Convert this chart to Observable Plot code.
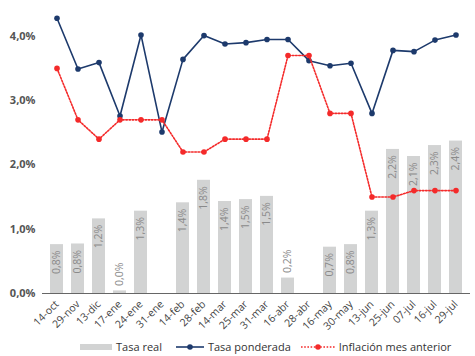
<!DOCTYPE html>
<html>
<head>
<meta charset="utf-8">
<script src="https://cdn.jsdelivr.net/npm/d3@7"></script>
<script src="https://cdn.jsdelivr.net/npm/@observablehq/plot@0.6"></script>
<style>
  body { margin: 0; background: #fff; font-family: "Open Sans", sans-serif; }
  #chart { width: 475px; height: 340px; }
  .legend { display: flex; align-items: center; font-size: 11px; color: #333; margin-left: 80px; height: 14px; line-height: 14px; white-space: nowrap; width: 390px; }
  .legend .item { display: flex; align-items: center; flex-shrink: 0; white-space: nowrap; }
  .legend svg { margin-right: 4px; flex-shrink: 0; }
</style>
</head>
<body>
<div id="chart"></div>
<script>
const categories = ["14-oct","29-nov","13-dic","17-ene","24-ene","31-ene","14-feb","28-feb","14-mar","25-mar","31-mar","16-abr","28-abr","16-may","30-may","13-jun","25-jun","07-jul","16-jul","29-jul"];
const tasaReal = [0.76,0.77,1.16,0.04,1.28,null,1.41,1.76,1.43,1.46,1.51,0.24,null,0.72,0.76,1.28,2.24,2.13,2.30,2.37];
const tasaPonderada = [4.28,3.49,3.59,2.76,4.02,2.51,3.64,4.01,3.88,3.90,3.95,3.95,3.62,3.54,3.58,2.80,3.78,3.76,3.94,4.02];
const inflacion = [3.50,2.70,2.40,2.70,2.70,2.70,2.20,2.20,2.40,2.40,2.40,3.70,3.70,2.80,2.80,1.50,1.50,1.60,1.60,1.60];
const yTicks = [0,1,2,3,4];

const fmt = v => v.toFixed(1).replace(".", ",") + "%";
const rows = categories.map((c, i) => ({cat: c, real: tasaReal[i], pond: tasaPonderada[i], infl: inflacion[i]}));
const barRows = rows.filter(d => d.real != null);
const inside = barRows.filter(d => d.real >= 0.5);
const outside = barRows.filter(d => d.real < 0.5);

const navy = "#1d3a6c";
const red = "#f42a2a";

const plot = Plot.plot({
  width: 475,
  height: 340,
  marginLeft: 42,
  marginRight: 5,
  marginTop: 10,
  marginBottom: 47,
  style: {fontFamily: "Open Sans, sans-serif", background: "#fff"},
  x: {domain: categories, paddingInner: 0.4, paddingOuter: 0.2, label: null},
  y: {domain: [0, 4.4], label: null},
  marks: [
    Plot.barY(barRows, {x: "cat", y: "real", fill: "#d2d3d3"}),
    Plot.text(inside, {x: "cat", y: "real", text: d => fmt(d.real), rotate: -90, textAnchor: "end", dy: 6, fill: "#8a8a8a", fontSize: 10.5}),
    Plot.text(outside, {x: "cat", y: "real", text: d => fmt(d.real), rotate: -90, textAnchor: "start", dy: -5, fill: "#8a8a8a", fontSize: 10.5}),
    Plot.ruleY([0], {stroke: "#666", strokeWidth: 1}),
    Plot.line(rows, {x: "cat", y: "pond", stroke: navy, strokeWidth: 1.6}),
    Plot.dot(rows, {x: "cat", y: "pond", fill: navy, r: 2.8}),
    Plot.line(rows, {x: "cat", y: "infl", stroke: red, strokeWidth: 1.6, strokeDasharray: "1.6,1.6"}),
    Plot.dot(rows, {x: "cat", y: "infl", fill: red, r: 2.8}),
    Plot.axisY({ticks: yTicks, tickSize: 0, tickPadding: 7, tickFormat: d => d.toFixed(1).replace(".", ",") + "%", fontSize: 11, fontWeight: "bold", fill: "#555"}),
    Plot.axisX({tickSize: 0, tickPadding: 9, tickRotate: -45, fontSize: 10.5, fill: "#444"})
  ]
});
document.getElementById("chart").appendChild(plot);

const legend = document.createElement("div");
legend.className = "legend";
legend.innerHTML = `
  <div class="item"><svg width="32" height="8"><rect x="0" y="1" width="32" height="6" fill="#d2d3d3"/></svg>Tasa real</div>
  <div class="item" style="margin-left:14px"><svg width="28" height="8"><line x1="0" y1="4" x2="28" y2="4" stroke="${navy}" stroke-width="1.6"/><circle cx="14" cy="4" r="2.8" fill="${navy}"/></svg>Tasa ponderada</div>
  <div class="item" style="margin-left:10px"><svg width="34" height="8"><line x1="0" y1="4" x2="34" y2="4" stroke="${red}" stroke-width="1.6" stroke-dasharray="1.6,1.6"/><circle cx="17" cy="4" r="2.8" fill="${red}"/></svg>Inflación mes anterior</div>`;
document.body.appendChild(legend);
</script>
</body>
</html>
